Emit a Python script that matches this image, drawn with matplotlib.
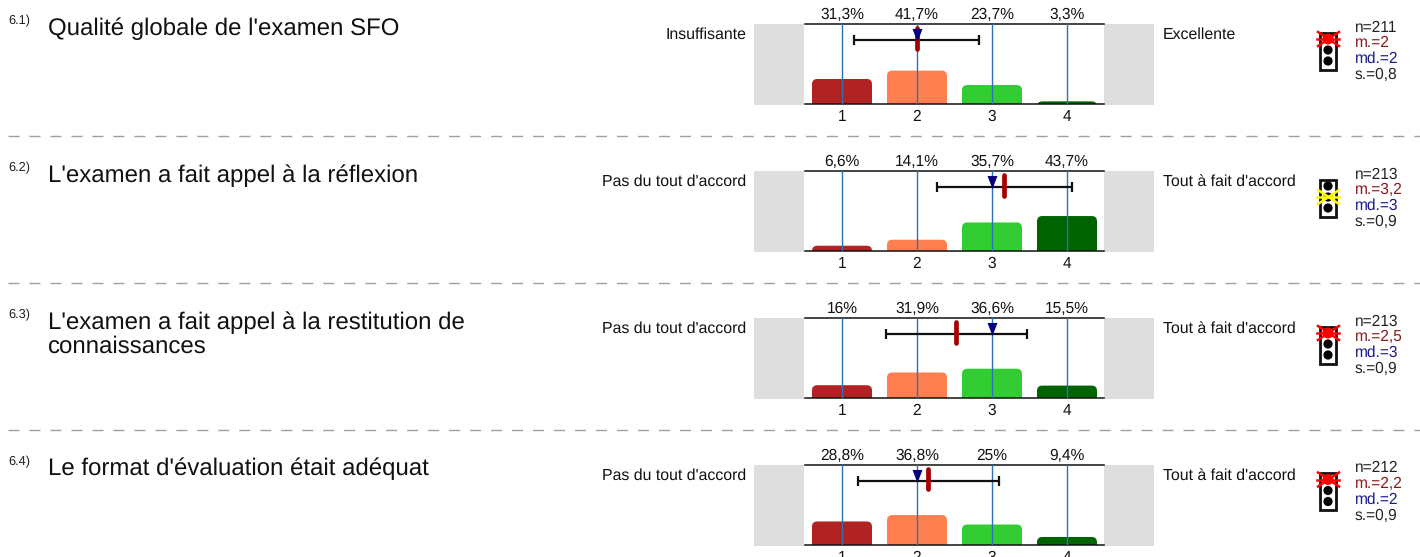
import matplotlib
matplotlib.use('Agg')
import matplotlib.pyplot as plt
from matplotlib.patches import FancyBboxPatch, Rectangle, Circle

plt.rcParams['font.family'] = ['Liberation Sans', 'DejaVu Sans']
plt.rcParams['text.hinting'] = 'no_hinting'

W, H = 1420, 557

numbers = ['6.1)', '6.2)', '6.3)', '6.4)']
titles = ["Qualité globale de l'examen SFO",
          "L'examen a fait appel à la réflexion",
          "L'examen a fait appel à la restitution de\nconnaissances",
          "Le format d'évaluation était adéquat"]
left_labels = ['Insuffisante', "Pas du tout d'accord", "Pas du tout d'accord", "Pas du tout d'accord"]
right_labels = ['Excellente', "Tout à fait d'accord", "Tout à fait d'accord", "Tout à fait d'accord"]
categories = [1, 2, 3, 4]
percents = [[31.3, 41.7, 23.7, 3.3],
            [6.6, 14.1, 35.7, 43.7],
            [16, 31.9, 36.6, 15.5],
            [28.8, 36.8, 25, 9.4]]
means = [2.0, 3.16, 2.52, 2.15]
medians = [2, 3, 3, 2]
dev_low = [1.16, 2.27, 1.59, 1.21]
dev_high = [2.83, 4.07, 3.47, 3.09]
n_vals = ['n=211', 'n=213', 'n=213', 'n=212']
m_vals = ['m.=2', 'm.=3,2', 'm.=2,5', 'm.=2,2']
md_vals = ['md.=2', 'md.=3', 'md.=3', 'md.=2']
s_vals = ['s.=0,8', 's.=0,9', 's.=0,9', 's.=0,9']
# which lamp of the traffic light is crossed out (0 = top)
lamp_on = [0, 1, 0, 0]
lamp_col = ['red', 'yellow', 'red', 'red']

bar_cols = ['#b22222', '#ff7f50', '#32cd32', '#006400']
tops = [24, 171, 318, 464.5]
seps = [136, 283, 430]

# narrow down-pointing triangle for the median
med_marker = [(-0.38, 0.5), (0.38, 0.5), (0, -0.5)]

fig = plt.figure(figsize=(W / 100, H / 100), dpi=100)

# page layer in pixel coordinates, for text and furniture
bg = fig.add_axes([0, 0, 1, 1])
bg.set_xlim(0, W)
bg.set_ylim(H, 0)
bg.axis('off')

for y in seps:
    bg.plot([8, W], [y, y], color='#a0a0a0', lw=1, dashes=(11 / 1.39, 10 / 1.39),
            dash_capstyle='butt')

for i, top in enumerate(tops):
    bg.text(8, top - 3, numbers[i], fontsize=9.2, color='#222222', va='center', ha='left')
    bg.text(48, top - 7, titles[i], fontsize=17.25, color='#111111', va='top', ha='left',
            linespacing=1.1)
    bg.text(746, top + 11, left_labels[i], fontsize=11.4, color='#111111', va='center', ha='right')
    bg.text(1163, top + 11, right_labels[i], fontsize=11.4, color='#111111', va='center', ha='left')

    bg.add_patch(Rectangle((754, top), 50, 81, color='#dedede', lw=0))
    bg.add_patch(Rectangle((1104, top), 50, 81, color='#dedede', lw=0))

    # traffic light
    bg.add_patch(Rectangle((1320, top + 8.5), 16, 37, fc='white', ec='#111111', lw=2))
    lamp_y = [top + 15, top + 26, top + 37]
    for y in lamp_y:
        bg.add_patch(Circle((1328, y), 4.6, color='black', lw=0))
    ly = lamp_y[lamp_on[i]]
    bg.plot([1318, 1339], [ly - 7, ly + 7], color=lamp_col[i], lw=1.8)
    bg.plot([1318, 1339], [ly + 7, ly - 7], color=lamp_col[i], lw=1.8)
    bg.plot([1317, 1339], [ly, ly], color=lamp_col[i], lw=1.8)
    if lamp_col[i] == 'red':
        bg.add_patch(Circle((1328, ly), 5.5, color='red', lw=0, zorder=5))

    # stats
    for txt, col, dy in zip([n_vals[i], m_vals[i], md_vals[i], s_vals[i]],
                            ['#222222', '#8b1a1a', '#1a1a8b', '#222222'],
                            [3.5, 19, 35, 51]):
        bg.text(1355, top + dy, txt, fontsize=11.2, color=col, va='center', ha='left')

    # scale panel, 75 px per category and 0.8 px per percent
    ax = fig.add_axes([804.5 / W, 1 - (top + 80) / H, 300 / W, 80 / H])
    ax.set_xlim(0.5, 4.5)
    ax.set_ylim(0, 100)
    for side in ['left', 'right']:
        ax.spines[side].set_visible(False)
    for side in ['top', 'bottom']:
        ax.spines[side].set_linewidth(1.1)
        ax.spines[side].set_color('#111111')
    ax.set_yticks([])
    ax.set_xticks(categories)
    ax.tick_params(axis='x', length=0, pad=4, labelsize=11.2, labelcolor='#111111')

    for c, p, col in zip(categories, percents[i], bar_cols):
        # box runs below the axis so only the top corners show as rounded
        ax.add_patch(FancyBboxPatch((c - 0.4, -12), 0.8, p + 12,
                                    boxstyle='round,pad=0,rounding_size=0.07',
                                    mutation_aspect=94, fc=col, ec='none', zorder=2))
        ax.axvline(c, color='#2b72b8', lw=1.0, zorder=3)
        label = f'{p:g}%'.replace('.', ',')
        ax.annotate(label, (c, 100), xytext=(0, 3.6), textcoords='offset points',
                    ha='center', va='baseline', fontsize=11.2, color='#111111')

    ax.plot([dev_low[i], dev_high[i]], [80, 80], color='#111111', lw=1.6, zorder=4,
            solid_capstyle='butt')
    ax.plot([dev_low[i], dev_high[i]], [80, 80], ls='none', marker='|', ms=7.2, mew=1.6,
            color='#111111', zorder=4)
    ax.plot([means[i], means[i]], [69, 95], color='#a50000', lw=3.4, zorder=5,
            solid_capstyle='round')
    ax.plot([medians[i]], [86], marker=med_marker, ms=9.4, color='#000080', mew=0, zorder=6,
            ls='none')

fig.savefig('out.png', dpi=100)
